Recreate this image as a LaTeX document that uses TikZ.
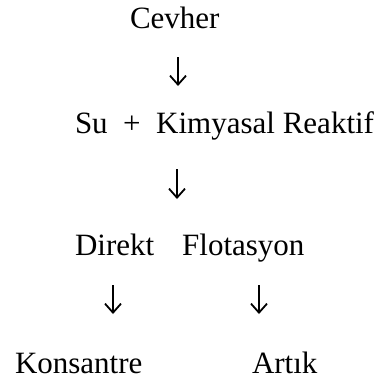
\documentclass[tikz,border=0pt]{standalone}
\usepackage{fontspec}
\setmainfont{Liberation Serif}
\usetikzlibrary{arrows.meta}
\begin{document}
\begin{tikzpicture}[x=1pt,y=-1pt,
  lbl/.style={anchor=base west,inner sep=0pt,outer sep=0pt,font=\fontsize{31}{36}\selectfont},
  darrow/.style={line width=1.4pt,-{Straight Barb[length=9pt,width=16pt,line width=1.8pt]}}]
\useasboundingbox (0,0) rectangle (385,383);
\node[lbl] (cevher) at (130,28) {Cevher};
\node[lbl] (su) at (75,133) {Su~~+~~Kimyasal Reaktif};
\node[lbl] (direkt) at (75,255) {Direkt\hspace{28pt}Flotasyon};
\node[lbl] (kons) at (15,373) {Konsantre};
\node[lbl] (artik) at (252,373) {Artık};
\coordinate (a1s) at (178,57);  \coordinate (a1e) at (178,86);
\coordinate (a2s) at (177,169); \coordinate (a2e) at (177,199);
\coordinate (a3s) at (113,285); \coordinate (a3e) at (113,314);
\coordinate (a4s) at (259,285); \coordinate (a4e) at (259,314);
\draw[darrow] (a1s) -- (a1e);
\draw[darrow] (a2s) -- (a2e);
\draw[darrow] (a3s) -- (a3e);
\draw[darrow] (a4s) -- (a4e);
\end{tikzpicture}
\end{document}
